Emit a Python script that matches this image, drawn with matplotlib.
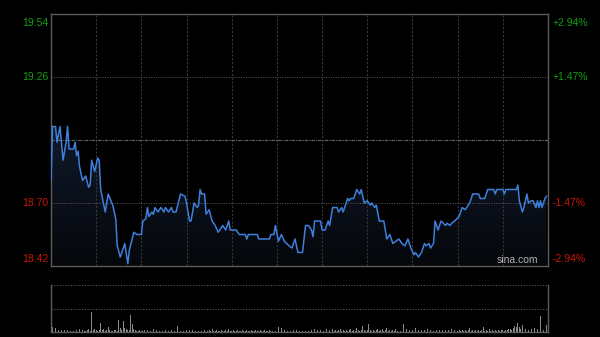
import matplotlib
matplotlib.use('Agg')
import matplotlib.pyplot as plt
import numpy as np
from matplotlib.colors import LinearSegmentedColormap

plt.rcParams['font.family'] = ['Liberation Sans', 'DejaVu Sans']

# intraday price, key points (minute from open, price)
minutes = [0, 1, 3, 4, 6, 8, 10, 11, 12, 15, 16, 17, 18, 19, 21, 23, 25, 26, 27, 29,
           31, 32, 33, 36, 38, 41, 43, 44, 46, 49, 51, 52, 55, 57, 60, 61, 63, 64, 65, 67,
           68, 69, 71, 73, 75, 76, 78, 80, 81, 83, 86, 89, 90, 92, 93, 95, 97, 98, 99, 100,
           102, 103, 105, 107, 109, 111, 114, 116, 118, 119, 123, 125, 129, 130, 131, 137, 138, 145, 146, 148,
           149, 151, 153, 155, 158, 160, 162, 164, 167, 169, 171, 173, 174, 175, 179, 180, 182, 184, 185, 187,
           190, 191, 193, 194, 195, 197, 198, 199, 201, 203, 205, 206, 208, 210, 212, 213, 215, 216, 218, 221,
           223, 225, 227, 231, 233, 235, 237, 239, 241, 242, 244, 246, 248, 249, 251, 252, 254, 255, 257, 259,
           262, 263, 265, 266, 268, 271, 273, 275, 278, 279, 280, 284, 285, 288, 290, 294, 295, 296, 300, 301,
           302, 309, 310, 311, 313, 314, 316, 317, 319, 320, 322, 323, 324, 325, 326, 328, 329]
prices = [18.80, 19.04, 19.04, 18.97, 19.04, 18.89, 18.97, 19.04, 18.94, 18.94, 18.97, 18.91, 18.93, 18.86, 18.80, 18.82, 18.77, 18.78, 18.89, 18.84,
          18.90, 18.89, 18.76, 18.66, 18.74, 18.69, 18.63, 18.51, 18.46, 18.52, 18.43, 18.49, 18.57, 18.56, 18.56, 18.62, 18.63, 18.68, 18.64, 18.66,
          18.65, 18.68, 18.66, 18.68, 18.66, 18.68, 18.66, 18.68, 18.66, 18.66, 18.74, 18.73, 18.70, 18.62, 18.62, 18.70, 18.68, 18.69, 18.76, 18.74,
          18.74, 18.65, 18.67, 18.62, 18.60, 18.57, 18.60, 18.58, 18.62, 18.58, 18.58, 18.56, 18.56, 18.54, 18.56, 18.56, 18.54, 18.54, 18.56, 18.56,
          18.60, 18.53, 18.56, 18.53, 18.51, 18.50, 18.54, 18.48, 18.48, 18.60, 18.60, 18.58, 18.55, 18.62, 18.62, 18.58, 18.58, 18.62, 18.60, 18.68,
          18.68, 18.66, 18.68, 18.66, 18.68, 18.72, 18.71, 18.72, 18.72, 18.76, 18.74, 18.76, 18.70, 18.71, 18.69, 18.70, 18.68, 18.69, 18.62, 18.62,
          18.54, 18.56, 18.52, 18.54, 18.52, 18.51, 18.54, 18.50, 18.47, 18.48, 18.46, 18.48, 18.52, 18.51, 18.52, 18.50, 18.52, 18.62, 18.58, 18.62,
          18.60, 18.61, 18.60, 18.61, 18.62, 18.64, 18.68, 18.67, 18.70, 18.72, 18.74, 18.74, 18.72, 18.72, 18.76, 18.76, 18.74, 18.76, 18.76, 18.74,
          18.76, 18.76, 18.78, 18.71, 18.66, 18.68, 18.74, 18.70, 18.71, 18.71, 18.68, 18.71, 18.68, 18.71, 18.68, 18.72, 18.73]

prev_close = 18.98
price_ticks = [19.54, 19.26, 18.70, 18.42]
pct_labels = ['+2.94%', '+1.47%', '-1.47%', '-2.94%']

# per-minute volume (relative units)
volumes = [2, 5, 5, 4, 4, 2, 18, 2, 1, 2, 1, 2, 1, 1, 2, 1, 4, 2, 6, 3, 1, 2, 1, 1, 2, 3, 1, 20, 2, 3,
           2, 1, 2, 9, 2, 3, 1, 2, 5, 2, 1, 1, 2, 2, 1, 12, 4, 2, 11, 4, 3, 2, 2, 17, 8, 3, 2, 1, 1, 2,
           1, 1, 2, 1, 2, 1, 1, 2, 3, 1, 2, 1, 1, 2, 1, 1, 2, 1, 1, 1, 2, 1, 1, 2, 6, 2, 1, 2, 1, 1,
           2, 6, 2, 1, 2, 1, 1, 2, 1, 2, 1, 1, 2, 1, 1, 2, 1, 3, 1, 1, 2, 1, 1, 2, 1, 1, 2, 1, 3, 1,
           1, 2, 1, 1, 2, 1, 1, 2, 1, 1, 2, 1, 1, 2, 1, 1, 2, 1, 1, 2, 1, 1, 2, 1, 1, 2, 1, 1, 2, 1,
           2, 5, 2, 4, 1, 2, 1, 1, 2, 1, 8, 2, 1, 2, 1, 1, 2, 1, 3, 1, 2, 1, 1, 2, 1, 3, 1, 2, 1, 2,
           1, 1, 2, 3, 1, 2, 1, 3, 1, 2, 1, 2, 3, 1, 2, 1, 2, 1, 2, 3, 1, 2, 1, 4, 2, 1, 2, 6, 2, 1,
           2, 8, 2, 1, 2, 1, 2, 3, 1, 2, 3, 1, 2, 4, 1, 2, 1, 2, 1, 3, 1, 2, 1, 2, 8, 2, 3, 1, 2, 1,
           2, 1, 4, 1, 2, 1, 2, 7, 2, 1, 3, 1, 2, 4, 1, 8, 2, 1, 2, 1, 2, 1, 2, 1, 2, 1, 3, 1, 2, 4,
           1, 2, 1, 2, 1, 2, 1, 2, 4, 1, 2, 1, 2, 1, 2, 1, 2, 5, 1, 2, 1, 3, 1, 2, 1, 2, 1, 2, 1, 2,
           2, 1, 2, 2, 3, 3, 2, 4, 6, 5, 9, 5, 3, 7, 2, 3, 8, 2, 1, 3, 2, 4, 2, 3, 2, 16, 3, 2, 4, 7,
           4]

fig = plt.figure(figsize=(6, 3.37), dpi=100, facecolor='black')
ax = fig.add_axes([0.085, 0.2107, 0.8283, 0.7478], facecolor='black')
axv = fig.add_axes([0.085, 0.0148, 0.8283, 0.1395], facecolor='black')

ymin, ymax = price_ticks[-1], price_ticks[0]

# price line with a dark gradient fill underneath
poly = ax.fill_between(minutes, prices, ymin, color='none', lw=0)
grad = LinearSegmentedColormap.from_list('g', ['#05070b', '#111a2b'])
top = max(prices)
img = ax.imshow(np.linspace(0, 1, 100).reshape(-1, 1), cmap=grad, aspect='auto',
                origin='lower', extent=[0, 330, ymin, top], zorder=1)
img.set_clip_path(poly.get_paths()[0], transform=ax.transData)
ax.plot(minutes, prices, color='#3f7fdc', lw=1.1, zorder=3)
ax.set_xlim(0, 330)
ax.set_ylim(ymin, ymax)

# grid
for t in range(30, 330, 30):
    ax.axvline(t, color='#383838', lw=0.8, ls=(0, (2, 1.5)), zorder=2)
for p in [price_ticks[1], price_ticks[2]]:
    ax.axhline(p, color='#5a5a5a', lw=0.7, ls=(0, (1, 1.5)), zorder=2)
ax.axhline(prev_close, color='#6a6a6a', lw=0.8, ls=(0, (3, 1, 1, 1)), zorder=2)

for s in ax.spines.values():
    s.set_color('#5c5c5c')
    s.set_linewidth(1)
ax.set_xticks([])
ax.set_yticks([])

# axis labels
for i, (p, lab) in enumerate(zip(price_ticks, pct_labels)):
    col = '#12a012' if p > prev_close else '#cc1408'
    va = 'center'
    off = 0
    if i == 0:
        va, off = 'top', -0.02
    elif i == len(price_ticks) - 1:
        va, off = 'bottom', 0.01
    ax.text(-0.006, p + off, f'{p:.2f}', color=col, fontsize=7.5, ha='right', va=va,
            transform=ax.get_yaxis_transform())
    ax.text(1.01, p + off, lab, color=col, fontsize=7.5, ha='left', va=va,
            transform=ax.get_yaxis_transform())

ax.text(0.98, 0.005, 'sina.com', color='#b0b0b0', fontsize=7.5, ha='right', va='bottom',
        transform=ax.transAxes, zorder=4)

# volume panel
vmax = 47
axv.bar(range(len(volumes)), volumes, width=0.5, color='#8a8a8a', lw=0)
axv.set_xlim(0, 330)
axv.set_ylim(0, vmax)
axv.axhline(vmax, color='#5a5a5a', lw=0.8, ls=(0, (1, 1.5)))
axv.axhline(vmax / 2, color='#5a5a5a', lw=0.8, ls=(0, (1, 1.5)))
axv.spines['top'].set_visible(False)
for k in ['left', 'right', 'bottom']:
    axv.spines[k].set_color('#5c5c5c')
    axv.spines[k].set_linewidth(1)
axv.set_xticks([])
axv.set_yticks([])

fig.savefig('out.png', dpi=100, facecolor='black')
